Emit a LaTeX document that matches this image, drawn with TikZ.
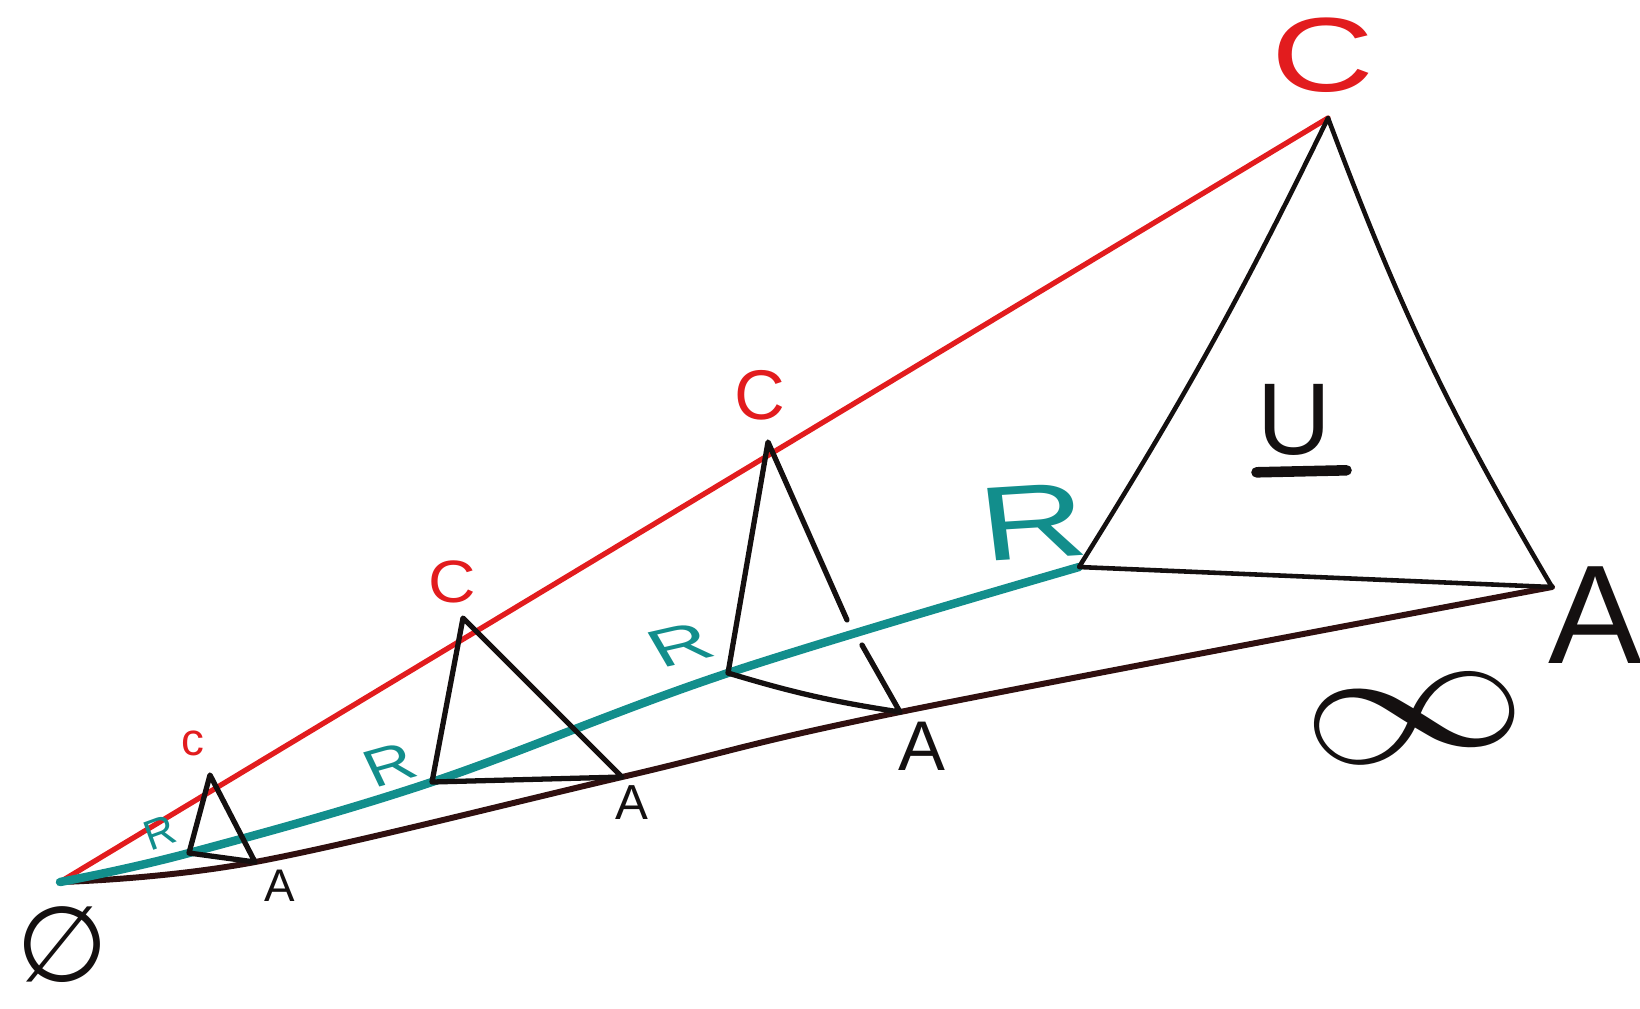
\documentclass[tikz,border=0pt]{standalone}
\usepackage{fontspec}
\setmainfont{Liberation Sans}
\newfontfamily\symfont{latinmodern-math.otf}
\newfontfamily\dvfont{DejaVu Sans}
\usepackage{tkz-euclide}
\definecolor{skred}{RGB}{226,28,30}
\definecolor{skteal}{RGB}{18,142,140}
\definecolor{skink}{RGB}{20,16,16}
\definecolor{skbrown}{RGB}{48,16,16}

\begin{document}
\begin{tikzpicture}[x=0.01cm,y=-0.01cm,line cap=round,line join=round,
    redlbl/.style={text=skred,inner sep=0pt},
    teallbl/.style={text=skteal,inner sep=0pt},
    inklbl/.style={text=skink,inner sep=0pt}]
  \useasboundingbox (0,0) rectangle (1640,1008);
  % common base point
  \coordinate (O) at (60,882);
  % small to large triangles
  \coordinate (C1) at (210,775);
  \coordinate (R1) at (189,853);
  \coordinate (A1) at (255,862);
  \coordinate (C2) at (463,618);
  \coordinate (R2) at (432,782);
  \coordinate (A2) at (622,777);
  \coordinate (C3) at (768,442);
  \coordinate (R3) at (728,673);
  \coordinate (A3) at (900,712);
  \coordinate (G1) at (847,620);
  \coordinate (G2) at (862,645);
  \coordinate (C4) at (1328,118);
  \coordinate (R4) at (1079,567);
  \coordinate (A4) at (1552,587);
  % the three rays
  \draw[skred,line width=1.5pt] (O) -- (C4);
  \draw[skbrown,line width=1.7pt] plot[smooth,tension=0.6] coordinates {(O) (A1) (A2) (A3) (A4)};
  \draw[skteal,line width=2.4pt] plot[smooth,tension=0.6] coordinates {(O) (R1) (R2) (R3) (R4)};
  % triangles
  \tkzDrawPolygon[skink,line width=1.5pt](C1,R1,A1)
  \tkzDrawPolygon[skink,line width=1.5pt](C2,R2,A2)
  \draw[skink,line width=1.5pt] (G1) -- (C3) -- (R3) to[bend right=4] (A3) -- (G2);
  \draw[skink,line width=1.3pt] (C4) to[bend left=3] (R4) -- (A4) to[bend left=5] (C4);
  % labels
  \node[redlbl,font=\fontsize{13}{13}\selectfont] (c1) at (193,743) {c};
  \node[teallbl,font=\fontsize{12}{12}\selectfont,rotate=20] (r1) at (160,833) {R};
  \node[inklbl,font=\fontsize{13}{13}\selectfont] (a1) at (280,886) {A};
  \node[redlbl,font=\fontsize{17}{17}\selectfont,xscale=1.1] (c2) at (452,582) {C};
  \node[teallbl,font=\fontsize{15}{15}\selectfont,xscale=1.3,rotate=20] (r2) at (390,765) {R};
  \node[inklbl,font=\fontsize{14}{14}\selectfont] (a2) at (632,803) {A};
  \node[redlbl,font=\fontsize{20}{20}\selectfont] (c3) at (760,395) {C};
  \node[teallbl,font=\fontsize{15}{15}\selectfont,xscale=1.6,rotate=20] (r3) at (680,645) {R};
  \node[inklbl,font=\fontsize{20}{20}\selectfont] (a3) at (922,746) {A};
  \node[redlbl,font=\fontsize{30}{30}\selectfont,xscale=1.35] (c4) at (1323,55) {C};
  \node[teallbl,font=\fontsize{30}{30}\selectfont,xscale=1.4,rotate=5] (r4) at (1033,522) {R};
  \node[inklbl,font=\fontsize{40}{40}\selectfont] (a4) at (1595,615) {A};
  \node[inklbl,font=\fontsize{29}{29}\selectfont] (u) at (1294,420) {U};
  \draw[skink,line width=3pt] ([yshift=-0.16cm]u.south west) -- ([xshift=0.15cm,yshift=-0.14cm]u.south east);
  \node[inklbl,font=\symfont\fontsize{48}{48}\selectfont,xscale=1.35,rotate=12] (inf) at (1415,718) {∞};
  \node[inklbl,font=\dvfont\fontsize{30}{30}\selectfont] (empty) at (62,945) {∅};
\end{tikzpicture}
\end{document}
